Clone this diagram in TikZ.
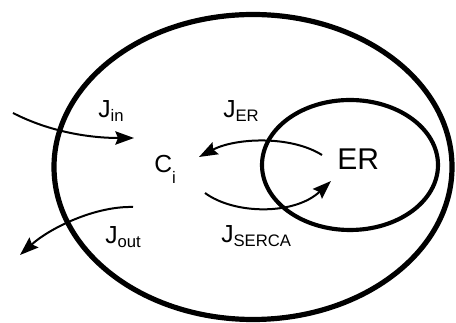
\documentclass[tikz,border=0pt]{standalone}
\usepackage{fontspec}
\setmainfont{Liberation Sans}
\usetikzlibrary{arrows.meta}

\newcommand{\fluxlabel}[1]{J\raisebox{-2.5pt}{\fontsize{12.5}{14}\selectfont #1}}

\begin{document}
\begin{tikzpicture}[x=0.75pt,y=0.75pt,yscale=-1,xscale=1,
    membrane/.style={line width=3.9pt},
    flux/.style={line width=1.5pt,-{Stealth[length=14pt,width=10pt,inset=2pt]}},
    lbl/.style={anchor=base west,inner sep=0pt,font=\fontsize{18.5}{21}\selectfont}]
        \path (0,0) rectangle (456,323); %diagram is 456 by 323

        %Shape: Ellipse [id:cell]
        \draw [membrane] (253,167) ellipse [x radius=199, y radius=152.5];
        %Shape: Ellipse [id:er]
        \draw [line width=3.1pt] (350,165) ellipse [x radius=88, y radius=65];

        % Text Node
        \node (jin) at (98,118) [lbl] {\fluxlabel{in}};
        % Text Node
        \node (jer) at (223,118) [lbl] {\fluxlabel{ER}};
        % Text Node
        \node (ci) at (154,173) [lbl] {C\raisebox{-8pt}{\fontsize{12.5}{14}\selectfont i}};
        % Text Node
        \node (er) at (337,170) [lbl,font=\fontsize{22.5}{26}\selectfont] {ER};
        % Text Node
        \node (jout) at (105,244) [lbl] {\fluxlabel{out}};
        % Text Node
        \node (jserca) at (221,243) [lbl] {\fluxlabel{SERCA}};

        \coordinate (inA) at (13,113);
        \coordinate (inB) at (134,138);
        \coordinate (outA) at (133,207);
        \coordinate (outB) at (20,255);
        \coordinate (erA) at (322,155);
        \coordinate (erB) at (199,157);
        \coordinate (sercaA) at (205,193);
        \coordinate (sercaB) at (331,181);

        %Shape: Curve [id:jin]
        \draw [flux] (inA) .. controls (50,132) and (90,138) .. (inB);
        %Shape: Curve [id:jout]
        \draw [flux] (outA) .. controls (95,206) and (50,228) .. (outB);
        %Shape: Curve [id:jer]
        \draw [flux] (erA) .. controls (290,135) and (235,138) .. (erB);
        %Shape: Curve [id:jserca]
        \draw [flux] (sercaA) .. controls (235,215) and (295,215) .. (sercaB);

\end{tikzpicture}
\end{document}
